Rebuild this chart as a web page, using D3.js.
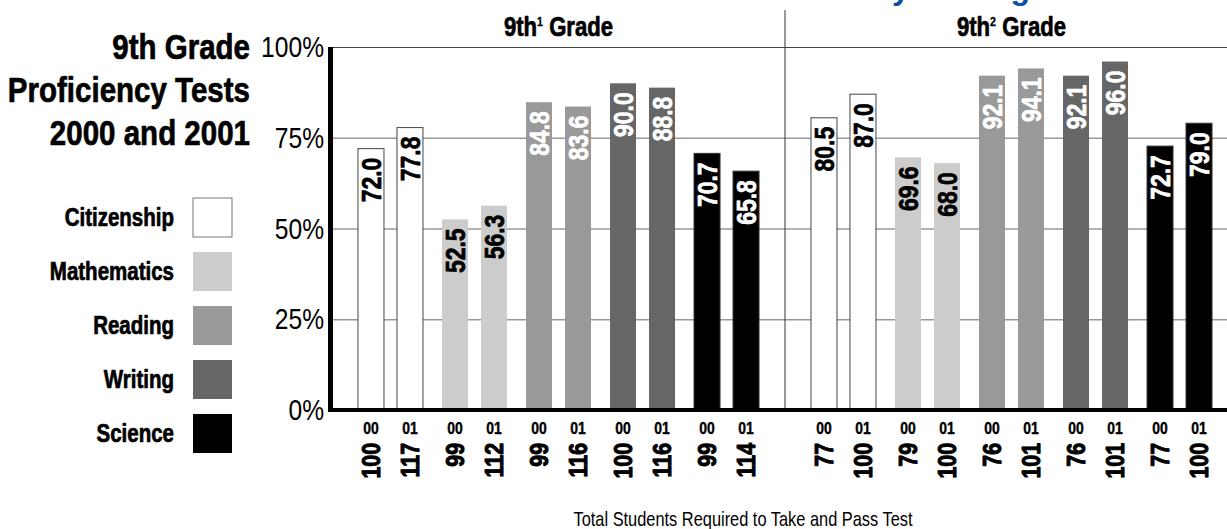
<!DOCTYPE html>
<html lang="en">
<head>
<meta charset="utf-8">
<title>9th Grade Proficiency Tests 2000 and 2001</title>
<script src="https://cdn.jsdelivr.net/npm/d3@7"></script>
<style>
  body { margin: 0; background: #fff; }
  svg { display: block; font-family: "Liberation Sans", Arial, sans-serif; }
  .heavy { font-weight: bold; stroke-width: 0.7px; stroke-linejoin: round; }
</style>
</head>
<body>
<script>
// data
var subjects = ["Citizenship", "Mathematics", "Reading", "Writing", "Science"];
var grades = ["9th1", "9th2"];
var gradeSup = ["1", "2"];
var years = ["00", "01"];
var yTicks = [0, 25, 50, 75, 100];

// percent passing, [subject][year]
var scores9th1 = [[72.0, 77.8], [52.5, 56.3], [84.8, 83.6], [90.0, 88.8], [70.7, 65.8]];
var scores9th2 = [[80.5, 87.0], [69.6, 68.0], [92.1, 94.1], [92.1, 96.0], [72.7, 79.0]];
// total students required to take and pass test
var takers9th1 = [[100, 117], [99, 112], [99, 116], [100, 116], [99, 114]];
var takers9th2 = [[77, 100], [79, 100], [76, 101], [76, 101], [77, 100]];

var fills = ["#ffffff", "#cccccc", "#999999", "#666666", "#000000"];
var labelFills = ["#000", "#000", "#fff", "#fff", "#fff"];

var w = 1227, h = 529;
var x0 = 332, groupW = 453;
var narrow = 0.82; // squeeze factor, no condensed font installed

var scores = [scores9th1, scores9th2];
var takers = [takers9th1, takers9th2];
var rows = [];
grades.forEach(function(g, gi) {
  subjects.forEach(function(s, si) {
    years.forEach(function(yr, yi) {
      rows.push({ g: g, gi: gi, s: s, si: si, yr: yr, v: scores[gi][si][yi], n: takers[gi][si][yi] });
    });
  });
});

var xGroup = d3.scaleBand().domain(grades).range([x0, x0 + groupW * 2]);
var xSubj = d3.scalePoint().domain(subjects).range([0, groupW]).padding(0.696);
var xYear = d3.scalePoint().domain(years).range([-19.5, 19.5]);
var barW = 26;
var y = d3.scaleLinear().domain([0, 100]).range([410, 47]);

function cx(d) { return xGroup(d.g) + xSubj(d.s) + xYear(d.yr); }

var svg = d3.select("body").append("svg").attr("width", w).attr("height", h);

// narrow text helper: positioned group, squeezed along the text direction
function ntext(parent, x, yy, rot, sx) {
  return parent.append("g")
    .attr("transform", "translate(" + x + "," + yy + ")" + (rot ? " rotate(" + rot + ")" : "") + " scale(" + (sx || narrow) + ",1)")
    .append("text");
}
function heavy(t, col) {
  return t.attr("class", "heavy").attr("fill", col || "#000").attr("stroke", col || "#000");
}

// cut-off heading above the chart
svg.append("text")
  .attr("x", 1030).attr("y", -1)
  .attr("text-anchor", "end")
  .attr("fill", "#0b4ea2")
  .style("font-weight", "bold").style("font-size", "32px")
  .text("Proficiency Testing");

// title
["9th Grade", "Proficiency Tests", "2000 and 2001"].forEach(function(t, i) {
  heavy(ntext(svg, 250, 59 + i * 43))
    .attr("text-anchor", "end")
    .style("font-size", "36px")
    .text(t);
});

// legend
var leg = svg.append("g").selectAll("g").data(subjects).enter().append("g")
  .attr("transform", function(d, i) { return "translate(0," + (198 + i * 54) + ")"; });
leg.append("rect")
  .attr("x", 193).attr("width", 39).attr("height", 39)
  .attr("fill", function(d, i) { return fills[i]; })
  .attr("stroke", function(d, i) { return i === 0 ? "#777" : "none"; });
leg.each(function(d) {
  heavy(ntext(d3.select(this), 174, 28))
    .attr("text-anchor", "end")
    .style("font-size", "25px")
    .text(d);
});

// gridlines
svg.append("g")
  .attr("transform", "translate(" + x0 + ",0)")
  .call(d3.axisRight(y).tickValues(yTicks.slice(1)).tickSize(w - x0).tickFormat(""))
  .call(function(g) {
    g.select(".domain").remove();
    g.selectAll("line").attr("stroke", function(d) { return d === 100 ? "#444" : "#999"; })
      .attr("stroke-width", function(d) { return d === 100 ? 1.2 : 1.5; });
  });

// divider between grades
svg.append("line")
  .attr("x1", xGroup(grades[1])).attr("x2", xGroup(grades[1]))
  .attr("y1", 10).attr("y2", y(0))
  .attr("stroke", "#333").attr("stroke-width", 1);

// grade headers
grades.forEach(function(g, gi) {
  var t = heavy(ntext(svg, xGroup(g) + groupW / 2, 36))
    .attr("text-anchor", "middle")
    .style("font-size", "27px");
  t.append("tspan").text("9th");
  t.append("tspan").attr("dy", -10).style("font-size", "13px").style("stroke-width", "0.3px").text(gradeSup[gi]);
  t.append("tspan").attr("dy", 10).text(" Grade");
});

// bars
svg.append("g").selectAll("rect").data(rows).enter().append("rect")
  .attr("x", function(d) { return cx(d) - barW / 2; })
  .attr("y", function(d) { return y(d.v); })
  .attr("width", barW)
  .attr("height", function(d) { return y(0) - y(d.v); })
  .attr("fill", function(d) { return fills[d.si]; })
  .attr("stroke", function(d) { return d.si === 0 ? "#444" : (d.si === 4 ? "#333" : "none"); })
  .attr("stroke-width", 1);

// value labels
var vl = svg.append("g");
rows.forEach(function(d) {
  heavy(ntext(vl, cx(d), y(d.v) + 9, -90), labelFills[d.si])
    .attr("dy", "0.36em")
    .attr("text-anchor", "end")
    .style("font-size", "28px")
    .text(d3.format(".1f")(d.v));
});

// y axis
svg.append("g")
  .attr("transform", "translate(324,0)")
  .call(d3.axisLeft(y).tickValues(yTicks).tickSize(0).tickPadding(0).tickFormat(function(d) { return d + "%"; }))
  .call(function(g) {
    g.select(".domain").remove();
    g.selectAll("text")
      .style("font-family", "inherit").style("font-size", "30px").attr("fill", "#000")
      .attr("x", 0)
      .attr("transform", "scale(" + narrow + ",1)");
  });
svg.append("rect").attr("x", 328).attr("y", y(100)).attr("width", 5).attr("height", y(0) - y(100) + 2).attr("fill", "#000");
svg.append("rect").attr("x", 328).attr("y", y(0) - 2).attr("width", w - 328).attr("height", 4).attr("fill", "#000");

// year labels
var yl = svg.append("g");
rows.forEach(function(d) {
  heavy(ntext(yl, cx(d), 434))
    .attr("text-anchor", "middle")
    .style("font-size", "17px").style("stroke-width", "0.4px")
    .text(d.yr);
});

// number of students
var nl = svg.append("g");
rows.forEach(function(d) {
  heavy(ntext(nl, cx(d), 443, -90))
    .attr("dy", "0.36em")
    .attr("text-anchor", "end")
    .style("font-size", "26px").style("stroke-width", "1px")
    .text(d.n);
});

ntext(svg, 743, 526)
  .attr("text-anchor", "middle")
  .style("font-size", "20px")
  .text("Total Students Required to Take and Pass Test");
</script>
</body>
</html>
